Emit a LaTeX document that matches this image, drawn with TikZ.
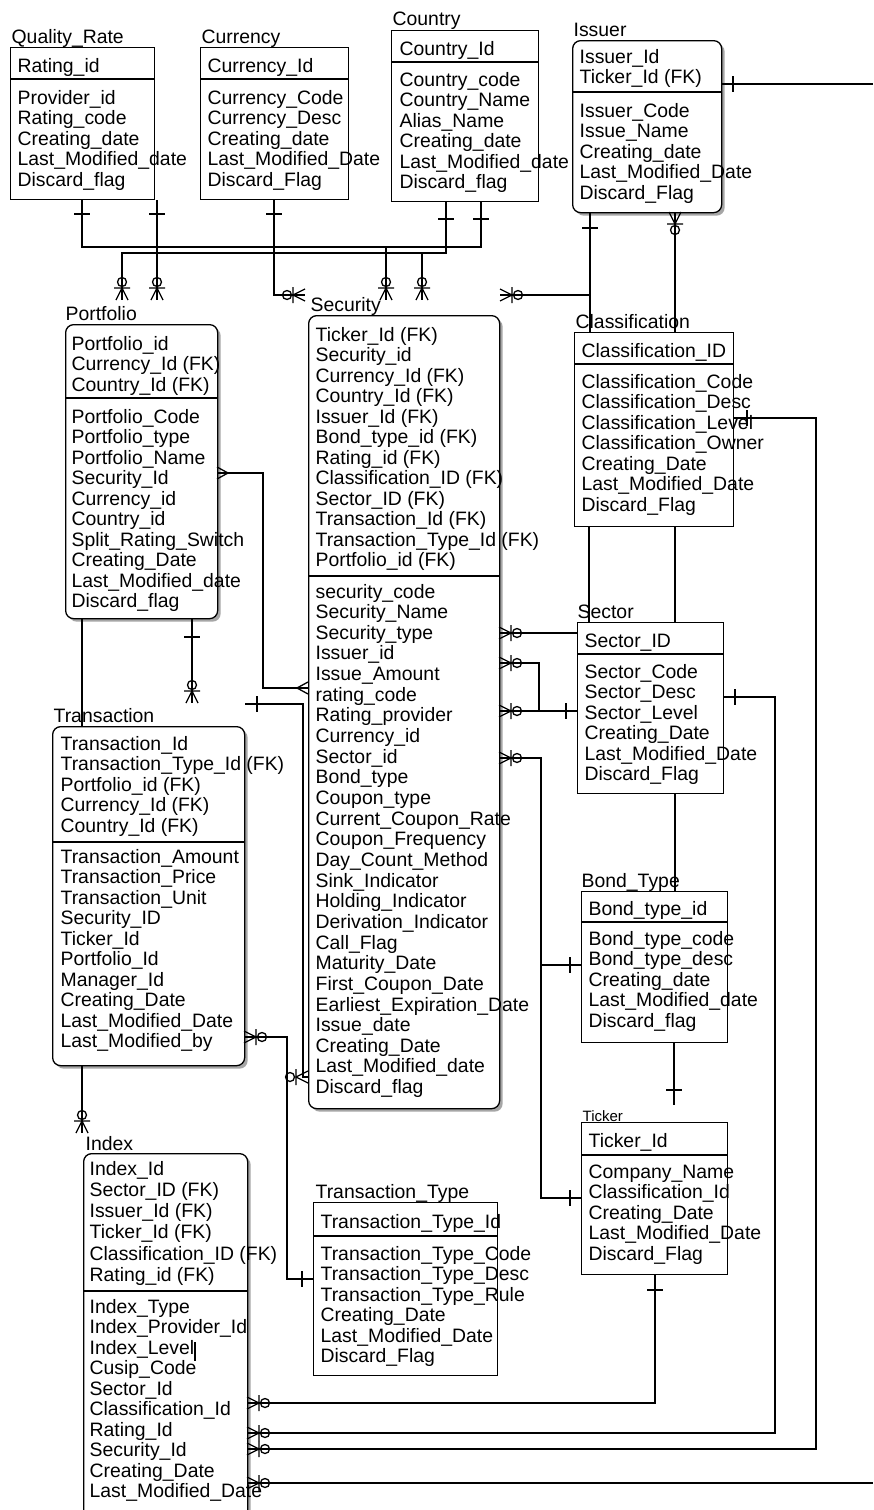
\documentclass[tikz,border=0pt]{standalone}
\usepackage{fontspec}
\setmainfont{Liberation Sans}
\usetikzlibrary{shadows}

\begin{document}
\begin{tikzpicture}[x=1pt,y=-1pt,line width=1.3pt,
  tbl/.style={draw,anchor=north west,inner sep=0pt,fill=white},
  rtbl/.style={tbl,rounded corners=8pt,
    drop shadow={shadow xshift=3pt,shadow yshift=-3pt,fill=black,opacity=.35}},
  fld/.style={anchor=base west,align=left,inner sep=0pt,
    font=\fontsize{19.4pt}{20.5pt}\selectfont},
  zmany/.pic={\draw (0,-6)--(12,0)--(0,6) (12,-8)--(12,8); \draw (18,0) circle (4.5);},
  many/.pic={\draw (0,-6)--(11,0)--(0,6);},
  bar/.pic={\draw (0,-8)--(0,8);}]
  \clip (0,0) rectangle (873,1510);

  % tables
  \node[tbl,minimum width=144pt,minimum height=152pt] (quality) at (10,47) {};
  \node[tbl,minimum width=148pt,minimum height=152pt] (currency) at (200,47) {};
  \node[tbl,minimum width=147pt,minimum height=171pt] (country) at (391,30) {};
  \node[rtbl,minimum width=149pt,minimum height=172pt] (issuer) at (572,40) {};
  \node[rtbl,minimum width=152pt,minimum height=294pt] (portfolio) at (65,324) {};
  \node[rtbl,minimum width=191pt,minimum height=793pt] (security) at (308,315) {};
  \node[tbl,minimum width=159pt,minimum height=194pt] (classif) at (574,332) {};
  \node[tbl,minimum width=146pt,minimum height=171pt] (sector) at (577,622) {};
  \node[tbl,minimum width=146pt,minimum height=151pt] (bond) at (581,891) {};
  \node[tbl,minimum width=146pt,minimum height=152pt] (ticker) at (581,1122) {};
  \node[rtbl,minimum width=192pt,minimum height=339pt] (transaction) at (52,726) {};
  \node[tbl,minimum width=184pt,minimum height=173pt] (ttype) at (313,1202) {};
  \node[rtbl,minimum width=164pt,minimum height=377pt] (index) at (83,1153) {};

  % key / attribute dividers
  \draw (quality.west |- 0,79) -- (quality.east |- 0,79);
  \draw (currency.west |- 0,79) -- (currency.east |- 0,79);
  \draw (country.west |- 0,62) -- (country.east |- 0,62);
  \draw (issuer.west |- 0,92) -- (issuer.east |- 0,92);
  \draw (portfolio.west |- 0,398) -- (portfolio.east |- 0,398);
  \draw (security.west |- 0,576) -- (security.east |- 0,576);
  \draw (classif.west |- 0,364) -- (classif.east |- 0,364);
  \draw (sector.west |- 0,654) -- (sector.east |- 0,654);
  \draw (bond.west |- 0,922) -- (bond.east |- 0,922);
  \draw (ticker.west |- 0,1155) -- (ticker.east |- 0,1155);
  \draw (transaction.west |- 0,842) -- (transaction.east |- 0,842);
  \draw (ttype.west |- 0,1236) -- (ttype.east |- 0,1236);
  \draw (index.west |- 0,1291) -- (index.east |- 0,1291);

  % titles
  \node[fld] (qrname) at (11,43) {Quality\_Rate};
  \node[fld] (curname) at (201,43) {Currency};
  \node[fld] (ctyname) at (392,25) {Country};
  \node[fld] (issname) at (573,36) {Issuer};
  \node[fld] (pfname) at (65,320) {Portfolio};
  \node[fld] (secname) at (310,311) {Security};
  \node[fld] (clsname) at (575,328) {Classification};
  \node[fld] (sctname) at (577,618) {Sector};
  \node[fld] (bndname) at (581,887) {Bond\_Type};
  \node[fld,font=\fontsize{15pt}{16pt}\selectfont] (tckname) at (582,1121) {Ticker};
  \node[fld] (trname) at (53,722) {Transaction};
  \node[fld] (ttname) at (315,1198) {Transaction\_Type};
  \node[fld] (idxname) at (85,1150) {Index};

  % fields (a multi-line node sits on the baseline of its last line)
  \node[fld] (qrkey) at (17,72) {Rating\_id};
  \node[fld] (qratt) at (17,186) {Provider\_id\\Rating\_code\\Creating\_date\\Last\_Modified\_date\\Discard\_flag};
  \node[fld] (curkey) at (207,72) {Currency\_Id};
  \node[fld] (curatt) at (207,186) {Currency\_Code\\Currency\_Desc\\Creating\_date\\Last\_Modified\_Date\\Discard\_Flag};
  \node[fld] (ctykey) at (399,55) {Country\_Id};
  \node[fld] (ctyatt) at (399,188.5) {Country\_code\\Country\_Name\\Alias\_Name\\Creating\_date\\Last\_Modified\_date\\Discard\_flag};
  \node[fld] (isskey) at (579,83.5) {Issuer\_Id\\Ticker\_Id (FK)};
  \node[fld] (issatt) at (579,199) {Issuer\_Code\\Issue\_Name\\Creating\_date\\Last\_Modified\_Date\\Discard\_Flag};
  \node[fld] (pfkey) at (71,391) {Portfolio\_id\\Currency\_Id (FK)\\Country\_Id (FK)};
  \node[fld] (pfatt) at (71,607.5) {Portfolio\_Code\\Portfolio\_type\\Portfolio\_Name\\Security\_Id\\Currency\_id\\Country\_id\\Split\_Rating\_Switch\\Creating\_Date\\Last\_Modified\_date\\Discard\_flag};
  \node[fld] (seckey) at (315,566.5) {Ticker\_Id (FK)\\Security\_id\\Currency\_Id (FK)\\Country\_Id (FK)\\Issuer\_Id (FK)\\Bond\_type\_id (FK)\\Rating\_id (FK)\\Classification\_ID (FK)\\Sector\_ID (FK)\\Transaction\_Id (FK)\\Transaction\_Type\_Id (FK)\\Portfolio\_id (FK)};
  \node[fld,font=\fontsize{19.4pt}{20.65pt}\selectfont] (secatt) at (315,1093.6) {security\_code\\Security\_Name\\Security\_type\\Issuer\_id\\Issue\_Amount\\rating\_code\\Rating\_provider\\Currency\_id\\Sector\_id\\Bond\_type\\Coupon\_type\\Current\_Coupon\_Rate\\Coupon\_Frequency\\Day\_Count\_Method\\Sink\_Indicator\\Holding\_Indicator\\Derivation\_Indicator\\Call\_Flag\\Maturity\_Date\\First\_Coupon\_Date\\Earliest\_Expiration\_Date\\Issue\_date\\Creating\_Date\\Last\_Modified\_date\\Discard\_flag};
  \node[fld] (clskey) at (581,357) {Classification\_ID};
  \node[fld] (clsatt) at (581,511) {Classification\_Code\\Classification\_Desc\\Classification\_Level\\Classification\_Owner\\Creating\_Date\\Last\_Modified\_Date\\Discard\_Flag};
  \node[fld] (sctkey) at (584,647) {Sector\_ID};
  \node[fld] (sctatt) at (584,780.5) {Sector\_Code\\Sector\_Desc\\Sector\_Level\\Creating\_Date\\Last\_Modified\_Date\\Discard\_Flag};
  \node[fld] (bndkey) at (588,915) {Bond\_type\_id};
  \node[fld] (bndatt) at (588,1027) {Bond\_type\_code\\Bond\_type\_desc\\Creating\_date\\Last\_Modified\_date\\Discard\_flag};
  \node[fld] (tckkey) at (588,1147) {Ticker\_Id};
  \node[fld] (tckatt) at (588,1260) {Company\_Name\\Classification\_Id\\Creating\_Date\\Last\_Modified\_Date\\Discard\_Flag};
  \node[fld] (trkey) at (60,832) {Transaction\_Id\\Transaction\_Type\_Id (FK)\\Portfolio\_id (FK)\\Currency\_Id (FK)\\Country\_Id (FK)};
  \node[fld] (tratt) at (60,1047.5) {Transaction\_Amount\\Transaction\_Price\\Transaction\_Unit\\Security\_ID\\Ticker\_Id\\Portfolio\_Id\\Manager\_Id\\Creating\_Date\\Last\_Modified\_Date\\Last\_Modified\_by};
  \node[fld] (ttkey) at (320,1228) {Transaction\_Type\_Id};
  \node[fld] (ttatt) at (320,1362.5) {Transaction\_Type\_Code\\Transaction\_Type\_Desc\\Transaction\_Type\_Rule\\Creating\_Date\\Last\_Modified\_Date\\Discard\_Flag};
  \node[fld,font=\fontsize{19.4pt}{21.3pt}\selectfont] (idxkey) at (89,1281.5) {Index\_Id\\Sector\_ID (FK)\\Issuer\_Id (FK)\\Ticker\_Id (FK)\\Classification\_ID (FK)\\Rating\_id (FK)};
  \node[fld] (idxatt) at (89,1497.5) {Index\_Type\\Index\_Provider\_Id\\Index\_Level\\Cusip\_Code\\Sector\_Id\\Classification\_Id\\Rating\_Id\\Security\_Id\\Creating\_Date\\Last\_Modified\_Date};
  \draw[line width=1.5pt] (195,1342) -- (195,1361);

  % Quality_Rate, Currency, Country
  \draw (82,0 |- quality.south) -- (82,247) -- (481,247) -- (481,0 |- country.south);
  \draw (386,247) -- (386,300);
  \draw (446,0 |- country.south) -- (446,253) -- (122,253) -- (122,300);
  \draw (422,253) -- (422,300);
  \draw (157,0 |- quality.south) -- (157,300);
  \draw (274,0 |- currency.south) -- (274,295) -- (305,295);
  \pic at (82,214) [rotate=90] {bar};
  \pic at (157,214) [rotate=90] {bar};
  \pic at (274,214) [rotate=90] {bar};
  \pic at (446,219) [rotate=90] {bar};
  \pic at (481,219) [rotate=90] {bar};
  \pic at (122,300) [rotate=90] {zmany};
  \pic at (157,300) [rotate=90] {zmany};
  \pic at (386,300) [rotate=90] {zmany};
  \pic at (422,300) [rotate=90] {zmany};
  \pic at (305,295) [rotate=180] {zmany};

  % Issuer
  \draw (issuer.east |- 0,84) -- (873,84);
  \draw (590,0 |- issuer.south) -- (590,0 |- classif.north);
  \draw (590,295) -- (500,295);
  \draw (675,0 |- issuer.south) -- (675,0 |- classif.north);
  \pic at (733,84) {bar};
  \pic at (590,228) [rotate=90] {bar};
  \pic at (500,295) {zmany};
  \pic at (675,212) [rotate=-90] {zmany};

  % Classification, Sector, Bond_Type
  \draw (589,0 |- classif.south) -- (589,0 |- sector.north);
  \draw (675,0 |- classif.south) -- (675,0 |- sector.north);
  \draw (675,0 |- sector.south) -- (675,0 |- bond.north);
  \draw (674,0 |- bond.south) -- (674,1105);
  \pic at (674,1090) [rotate=90] {bar};

  % Security right side
  \draw (security.east |- 0,633) -- (sector.west |- 0,633);
  \draw (security.east |- 0,663) -- (539,663) -- (539,711);
  \draw (security.east |- 0,711) -- (sector.west |- 0,711);
  \draw (security.east |- 0,758) -- (541,758) -- (541,1198) -- (ticker.west |- 0,1198);
  \draw (541,965) -- (bond.west |- 0,965);
  \foreach \y in {633,663,711,758}
    \pic at (499,\y) {zmany};
  \pic at (566,711) {bar};
  \pic at (570,965) {bar};
  \pic at (570,1198) {bar};

  % Portfolio, Transaction
  \draw (portfolio.east |- 0,473) -- (263,473) -- (263,688) -- (security.west |- 0,688);
  \pic at (217,473) {many};
  \pic at (308,688) [rotate=180] {many};
  \draw (82,0 |- portfolio.south) -- (82,0 |- transaction.north);
  \draw (192,0 |- portfolio.south) -- (192,703);
  \pic at (192,637) [rotate=90] {bar};
  \pic at (192,703) [rotate=90] {zmany};
  \coordinate (trfree) at (245,704);
  \draw (trfree) -- (303,704) -- (303,1077) -- (security.west |- 0,1077);
  \pic at (257,704) {bar};
  \pic at (308,1077) [rotate=180] {zmany};
  \draw (transaction.east |- 0,1037) -- (287,1037) -- (287,1279) -- (ttype.west |- 0,1279);
  \pic at (244,1037) {zmany};
  \pic at (302,1279) {bar};
  \draw (82,0 |- transaction.south) -- (82,1133);
  \pic at (82,1133) [rotate=90] {zmany};

  % Index
  \draw (classif.east |- 0,418) -- (816,418) -- (816,1449) -- (index.east |- 0,1449);
  \draw (sector.east |- 0,697) -- (775,697) -- (775,1433) -- (index.east |- 0,1433);
  \draw (655,0 |- ticker.south) -- (655,1403) -- (index.east |- 0,1403);
  \draw (index.east |- 0,1483) -- (873,1483);
  \pic at (747,418) {bar};
  \pic at (735,697) {bar};
  \pic at (655,1290) [rotate=90] {bar};
  \foreach \y in {1403,1433,1449,1483}
    \pic at (247,\y) {zmany};
\end{tikzpicture}
\end{document}
